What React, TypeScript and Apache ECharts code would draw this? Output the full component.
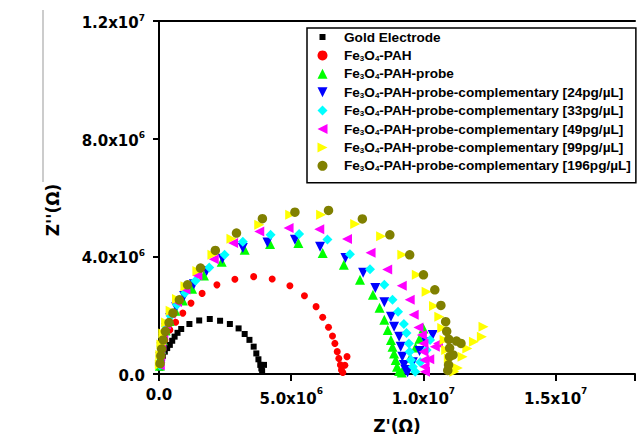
import React, { useEffect, useRef } from 'react';
import * as echarts from 'echarts';

// ---- Data (MΩ units) ----
const SERIES_NAMES = [
  'Gold Electrode',
  'Fe3O4-PAH',
  'Fe3O4-PAH-probe',
  'Fe3O4-PAH-probe-complementary [24pg/µL]',
  'Fe3O4-PAH-probe-complementary [33pg/µL]',
  'Fe3O4-PAH-probe-complementary [49pg/µL]',
  'Fe3O4-PAH-probe-complementary [99pg/µL]',
  'Fe3O4-PAH-probe-complementary [196pg/µL]',
];

const GOLD = [
  [0.04, 0.22], [0.07, 0.36], [0.10, 0.48], [0.15, 0.62], [0.22, 0.76], [0.31, 0.88], [0.41, 0.99],
  [0.50, 1.13], [0.59, 1.27], [0.70, 1.40], [0.84, 1.53], [1.15, 1.70], [1.52, 1.82], [1.92, 1.87],
  [2.31, 1.81], [2.68, 1.70], [3.01, 1.55], [3.24, 1.36], [3.42, 1.16], [3.58, 0.93], [3.68, 0.70],
  [3.76, 0.50], [3.83, 0.31], [3.87, 0.19], [3.90, 0.10], [3.97, 0.31],
];

const PAH = [
  [0.03, 0.25], [0.05, 0.48], [0.10, 0.82], [0.22, 1.16], [0.41, 1.50], [0.63, 1.76], [0.90, 2.07],
  [1.21, 2.41], [1.63, 2.74], [2.19, 3.03], [2.87, 3.22], [3.58, 3.31], [4.28, 3.23], [4.95, 3.00],
  [5.50, 2.66], [5.94, 2.29], [6.19, 1.93], [6.41, 1.59], [6.56, 1.29], [6.65, 1.04], [6.74, 0.76],
  [6.80, 0.53], [6.86, 0.31], [6.90, 0.14], [6.95, 0.05], [7.03, 0.30], [7.11, 0.59],
];

const PROBE = [
  [0.03, 0.28], [0.05, 0.55], [0.09, 0.85], [0.15, 1.15], [0.25, 1.48], [0.40, 1.80], [0.62, 2.15],
  [0.90, 2.50], [1.25, 2.90], [1.70, 3.35], [2.37, 3.82], [3.24, 4.22], [4.20, 4.42], [5.27, 4.45],
  [6.19, 4.11], [6.99, 3.71], [7.60, 3.20], [8.09, 2.69], [8.34, 2.25], [8.52, 1.84], [8.65, 1.50],
  [8.77, 1.16], [8.83, 0.93], [8.89, 0.70], [8.95, 0.48], [9.00, 0.25], [9.08, 0.10], [9.18, 0.05],
  [9.30, 0.25], [9.50, 0.55], [9.70, 0.90], [9.85, 1.20], [10.00, 1.55],
];

const C24 = [
  [0.03, 0.28], [0.05, 0.58], [0.09, 0.90], [0.16, 1.22], [0.27, 1.56], [0.42, 1.90], [0.65, 2.27],
  [0.95, 2.65], [1.32, 3.05], [1.80, 3.50], [2.40, 3.92], [3.17, 4.28], [4.10, 4.47], [5.14, 4.56],
  [6.09, 4.33], [7.05, 3.94], [7.72, 3.44], [8.18, 2.92], [8.52, 2.44], [8.77, 1.95], [8.89, 1.61],
  [9.08, 1.27], [9.14, 0.93], [9.20, 0.59], [9.26, 0.31], [9.32, 0.14], [9.40, 0.06], [9.60, 0.40],
  [9.85, 0.78], [10.10, 1.08], [10.35, 1.33],
];

const C33 = [
  [0.03, 0.30], [0.05, 0.60], [0.09, 0.93], [0.16, 1.27], [0.27, 1.62], [0.44, 1.97], [0.68, 2.35],
  [0.98, 2.75], [1.38, 3.17], [1.90, 3.62], [2.48, 4.05], [3.17, 4.50], [4.22, 4.73], [5.30, 4.76],
  [6.37, 4.57], [7.22, 4.07], [7.98, 3.56], [8.52, 3.03], [8.83, 2.52], [9.04, 2.12], [9.26, 1.70],
  [9.36, 1.39], [9.45, 1.04], [9.48, 0.76], [9.53, 0.48], [9.60, 0.25], [9.69, 0.08], [9.88, 0.40],
  [10.12, 0.82], [10.25, 1.16],
];

const C49 = [
  [0.03, 0.30], [0.05, 0.62], [0.09, 0.96], [0.16, 1.32], [0.27, 1.68], [0.44, 2.05], [0.68, 2.45],
  [1.00, 2.87], [1.45, 3.35], [2.07, 3.90], [2.80, 4.45], [3.79, 4.84], [4.90, 4.96], [6.06, 4.92],
  [7.11, 4.59], [8.00, 4.12], [8.63, 3.55], [9.18, 3.00], [9.48, 2.52], [9.63, 2.01], [9.81, 1.58],
  [9.94, 1.33], [10.00, 1.04], [10.00, 0.76], [10.03, 0.48], [10.04, 0.25], [10.06, 0.08],
  [10.22, 0.50], [10.43, 0.93], [10.55, 1.04],
];

const C99 = [
  [0.03, 0.32], [0.05, 0.65], [0.09, 1.00], [0.16, 1.38], [0.27, 1.75], [0.44, 2.15], [0.68, 2.55],
  [1.00, 2.98], [1.45, 3.50], [2.02, 4.05], [2.74, 4.60], [3.79, 5.07], [4.96, 5.41], [6.13, 5.41],
  [7.42, 5.10], [8.40, 4.68], [9.20, 4.05], [9.75, 3.37], [10.12, 2.80], [10.40, 2.31], [10.60, 1.95],
  [10.71, 1.56], [10.80, 1.16], [10.86, 0.82], [10.96, 0.53], [11.04, 0.25], [11.17, 0.08],
  [11.30, 0.20], [11.48, 0.59], [11.66, 0.87], [11.91, 1.10], [12.21, 1.27], [12.27, 1.61],
];

const C196 = [
  [0.04, 0.35], [0.07, 0.62], [0.10, 0.85], [0.16, 1.16], [0.24, 1.45], [0.38, 1.75], [0.53, 2.07],
  [0.77, 2.52], [1.08, 3.03], [1.57, 3.60], [2.13, 4.20], [2.93, 4.79], [3.91, 5.28], [5.14, 5.50],
  [6.41, 5.56], [7.69, 5.27], [8.73, 4.73], [9.48, 4.05], [10.00, 3.37], [10.43, 2.86], [10.66, 2.33],
  [10.84, 1.78], [10.88, 1.45], [10.96, 1.18], [10.99, 0.88], [10.99, 0.59], [10.95, 0.31],
  [10.92, 0.12], [11.12, 0.65], [11.25, 1.12], [11.42, 1.04],
];

const SERIES_DATA = [GOLD, PAH, PROBE, C24, C33, C49, C99, C196];

const X_TICKS = [0, 5e6, 1e7, 1.5e7];
const X_TICK_LABELS = ['0.0', '5.0x10^6', '1.0x10^7', '1.5x10^7'];
const Y_TICKS = [0, 4e6, 8e6, 1.2e7];
const Y_TICK_LABELS = ['0.0', '4.0x10^6', '8.0x10^6', '1.2x10^7'];

const X_TITLE = "Z'(Ω)";
const Y_TITLE = "Z''(Ω)";

// ---- Styles ----
const STYLES = [
  { symbol: 'rect', size: 6, color: '#000000', rotate: 0, icon: 'path://M0,0M10,10M2,2L8,2L8,8L2,8Z' },
  { symbol: 'circle', size: 7, color: '#ff0000', rotate: 0, icon: 'circle' },
  { symbol: 'triangle', size: 10, color: '#00ff00', rotate: 0, icon: 'triangle' },
  { symbol: 'triangle', size: 10, color: '#0000ff', rotate: 180, icon: 'path://M0,0L10,0L5,10Z' },
  { symbol: 'diamond', size: 10, color: '#00ffff', rotate: 0, icon: 'diamond' },
  { symbol: 'triangle', size: 10, color: '#ff00ff', rotate: 90, icon: 'path://M10,0L10,10L0,5Z' },
  { symbol: 'triangle', size: 10, color: '#ffff00', rotate: -90, icon: 'path://M0,0L10,5L0,10Z' },
  { symbol: 'circle', size: 9.5, color: '#808000', rotate: 0, icon: 'circle' },
];

const TICK_FONT = '"DejaVu Sans", sans-serif';
const LEGEND_FONT = '"Liberation Sans", Arial, sans-serif';

function fmtX(label: string) {
  const parts = label.split('^');
  return parts.length === 2 ? `{xm|${parts[0]}}{xs|${parts[1]}}` : `{xz|${label}}`;
}
function fmtY(label: string) {
  const parts = label.split('^');
  return parts.length === 2 ? `{ym|${parts[0]}}{ys|${parts[1]}}` : `{yz|${label}}`;
}

const base = { fontFamily: TICK_FONT, fontWeight: 'bold' as const, color: '#000' };
const legendBase = { fontFamily: LEGEND_FONT, fontWeight: 'bold' as const, color: '#000' };

export default function App() {
  const ref = useRef<HTMLDivElement>(null);
  useEffect(() => {
    if (!ref.current) return;
    const chart = echarts.init(ref.current, undefined, { renderer: 'svg' });
    const axisLine = { show: true, onZero: false, lineStyle: { color: '#000', width: 2 } };
    chart.setOption({
      animation: false,
      backgroundColor: '#fff',
      grid: { left: 159, top: 21, width: 488, height: 353 },
      legend: {
        orient: 'vertical',
        left: 307,
        top: 28,
        padding: [2, 5, 10, 10.5],
        itemWidth: 10,
        itemHeight: 10,
        itemGap: 4.4,
        borderColor: '#000',
        borderWidth: 1.5,
        selectedMode: false,
        data: SERIES_NAMES.map((name, i) => ({ name, icon: STYLES[i].icon })),
        formatter: (name: string) => '{sp| }' + name.replace('Fe3O4', 'Fe{s|3}O{s|4}'),
        textStyle: {
          ...legendBase,
          fontSize: 13.6,
          lineHeight: 14,
          rich: {
            sp: { ...legendBase, fontSize: 13.6, lineHeight: 14, width: 11.5 },
            s: { ...legendBase, fontSize: 8, lineHeight: 6, verticalAlign: 'bottom' },
          },
        },
      },
      xAxis: [
        {
          type: 'value',
          min: 0,
          max: 1.8e7,
          interval: 5e6,
          position: 'bottom',
          axisLine,
          axisTick: { show: true, length: 7, lineStyle: { color: '#000', width: 2 } },
          splitLine: { show: false },
          axisLabel: {
            margin: 12.5,
            formatter: (v: number) => {
              const i = X_TICKS.findIndex((t) => Math.abs(t - v) < 1);
              return i < 0 ? '' : fmtX(X_TICK_LABELS[i]);
            },
            rich: {
              xm: { ...base, fontSize: 15, lineHeight: 16, padding: [4.5, 0, 0, 0], verticalAlign: 'top' },
              xs: { ...base, fontSize: 9, lineHeight: 10, verticalAlign: 'top' },
              xz: { ...base, fontSize: 15, lineHeight: 16, padding: [1, 0, 0, 0] },
            },
          },
          name: X_TITLE,
          nameLocation: 'middle',
          nameGap: 43,
          nameTextStyle: { fontFamily: TICK_FONT, fontWeight: 'bold', fontSize: 17, color: '#000' },
        },
        {
          type: 'value',
          min: 0,
          max: 1.8e7,
          position: 'top',
          axisLine,
          axisTick: { show: false },
          axisLabel: { show: false },
          splitLine: { show: false },
        },
      ],
      yAxis: {
        type: 'value',
        min: 0,
        max: 1.2e7,
        interval: 4e6,
        axisLine,
        axisTick: { show: true, length: 6, lineStyle: { color: '#000', width: 2 } },
        splitLine: { show: false },
        axisLabel: {
          margin: 14,
          formatter: (v: number) => {
            const i = Y_TICKS.findIndex((t) => Math.abs(t - v) < 1);
            return i < 0 ? '' : fmtY(Y_TICK_LABELS[i]);
          },
          rich: {
            ym: { ...base, fontSize: 15, lineHeight: 16, padding: [4, 0, 0, 0] },
            ys: { ...base, fontSize: 9, lineHeight: 10, verticalAlign: 'top' },
            yz: { ...base, fontSize: 15, lineHeight: 16, padding: [4, 0, 0, 0] },
          },
        },
      },
      graphic: [
        { type: 'line', shape: { x1: 43, y1: 10, x2: 43, y2: 182 }, style: { stroke: '#999', lineWidth: 1 } },
        {
          type: 'text',
          x: 53,
          y: 210,
          rotation: Math.PI / 2,
          style: {
            text: Y_TITLE,
            fontFamily: TICK_FONT,
            fontWeight: 'bold',
            fontSize: 17,
            fill: '#000',
            align: 'center',
            verticalAlign: 'middle',
          },
        },
      ],
      series: SERIES_NAMES.map((name, i) => ({
        name,
        type: 'scatter',
        xAxisIndex: 0,
        symbol: STYLES[i].symbol,
        symbolSize: STYLES[i].size,
        symbolRotate: STYLES[i].rotate,
        itemStyle: { color: STYLES[i].color, opacity: 1 },
        emphasis: { disabled: true },
        data: SERIES_DATA[i].map(([x, y]) => [x * 1e6, y * 1e6]),
      })),
    });
    return () => chart.dispose();
  }, []);
  return <div ref={ref} style={{ position: 'fixed', left: 0, top: 0, width: 638, height: 443 }} />;
}
